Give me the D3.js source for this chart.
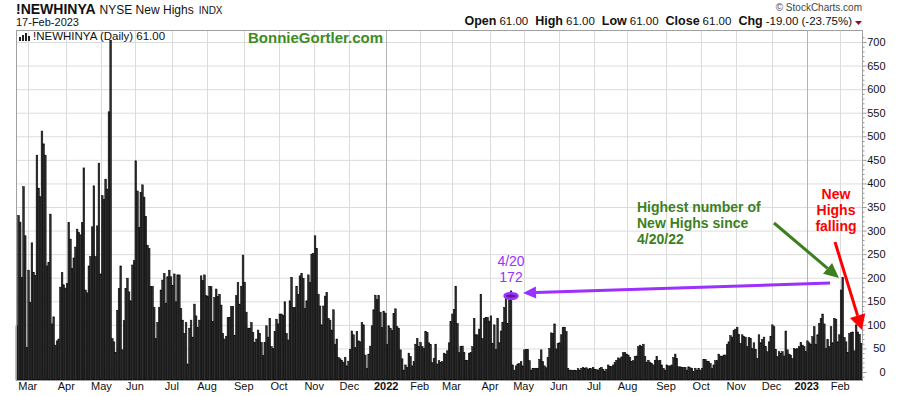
<!DOCTYPE html>
<html>
<head>
<meta charset="utf-8">
<script src="https://cdn.jsdelivr.net/npm/d3@7"></script>
<style>
  body { margin: 0; background: #fff; }
  svg { display: block; font-family: Arial, "Liberation Sans", sans-serif; }
</style>
</head>
<body>
<div id="chart"></div>
<script>
// NYSE new highs, daily, one value per trading day
const newHighs2021 = [
  98, 332, 318, 200, 393, 289, 52, 216, 148, 274, 211, 205, 460, 390, 372, 511, 484, 460, 225, 232,
  335, 102, 117, 57, 66, 70, 180, 211, 185, 178, 188, 317, 282, 220, 242, 265, 303, 296, 291, 317,
  433, 174, 168, 225, 245, 308, 395, 245, 310, 443, 208, 374, 366, 409, 388, 552, 704, 71, 64, 41,
  131, 177, 225, 47, 109, 177, 199, 170, 151, 227, 236, 448, 384, 307, 381, 397, 371, 330, 269, 262,
  181, 182, 137, 71, 105, 137, 174, 195, 209, 146, 202, 216, 202, 183, 208, 149, 206, 206, 135, 110,
  82, 105, 17, 93, 110, 74, 144, 119, 95, 110, 204, 194, 206, 162, 160, 182, 181, 107, 158, 176,
  160, 165, 142, 82, 70, 76, 116, 116, 139, 139, 78, 162, 190, 144, 182, 248, 190, 127, 93, 93,
  105, 84, 63, 70, 89, 82, 63, 35, 63, 98, 74, 114, 54, 50, 86, 112, 102, 123, 123, 120,
  149, 82, 68, 151, 201, 137, 137, 182,
  165, 204, 209, 199, 135, 151, 206, 190, 250, 252, 289, 262, 165, 140, 100, 140, 161, 169, 114, 110,
  89, 132, 59, 70, 31, 28, 25, 21, 31, 13, 23, 48, 87, 79, 52, 86, 66, 64, 105, 100,
  36, 8, 38, 55, 98, 132, 163, 154, 162, 127, 94, 129, 125
];
const newHighs2022 = [
  59, 98, 93, 88, 124, 134, 96, 93, 47, 28, 4, 15, 10, 40, 33, 13, 22, 59, 71, 54,
  63, 54, 50, 86, 84, 62, 58, 20, 29, 59, 17, 24, 20, 22, 40, 38, 45, 62,
  107, 123, 133, 182, 103, 41, 54, 55, 42, 25, 25, 40, 41, 54, 114, 79, 79, 91, 165, 71,
  114, 116, 116, 108, 119, 61, 100, 48, 114, 62, 87, 105, 137, 155, 103, 160, 172,
  15, 4, 13, 17, 18, 22, 13, 47, 48, 48, 24, 4, 8, 8, 8, 8, 27, 47, 22, 13,
  9, 31, 50, 83, 82, 102, 49, 61, 62, 79, 95, 95, 86, 8,
  4, 4, 3, 4, 3, 7, 4, 8, 10, 8, 9, 6, 8, 7, 10, 6, 5, 4, 8, 10,
  6, 2, 6, 15, 12, 12, 15, 20, 25, 30, 28, 32, 41,
  41, 38, 36, 31, 22, 24, 33, 34, 54, 57, 54, 59, 33, 21, 25, 20, 18, 15, 25, 33,
  24, 25, 15, 8, 4, 15, 13, 13, 15, 31, 38, 29, 11, 11, 10, 10, 10, 4, 11, 9,
  8, 1, 8, 4, 8, 4, 8, 27, 27, 23, 22, 18, 8, 15, 24, 24, 38, 34, 33, 36,
  36, 59, 64, 77, 74, 88, 91, 95, 80, 61, 79, 75, 74, 54, 73, 71, 50,
  62, 48, 29, 79, 62, 69, 74, 54, 43, 64, 76, 100, 96, 48, 33, 43, 40, 43, 34, 87,
  47, 38, 36, 29, 50, 48, 50, 54, 63, 57, 54, 43
];
const newHighs2023 = [
  66, 62, 59, 75, 96, 59, 79, 103, 114, 123, 102, 50, 69, 54, 96, 62, 114, 112, 64, 79,
  174, 200, 73, 64, 41, 82, 84, 85, 45, 100, 85, 80, 61
];

const lastDay = '2023-02-17';
const marketHolidays = [
  '2021-04-02', '2021-05-31', '2021-07-05', '2021-09-06', '2021-11-25', '2021-12-24',
  '2022-01-17', '2022-02-21', '2022-04-15', '2022-05-30', '2022-06-20', '2022-07-04',
  '2022-09-05', '2022-11-24', '2022-12-26', '2023-01-02', '2023-01-16'
];
const monthNames = ['Jan', 'Feb', 'Mar', 'Apr', 'May', 'Jun', 'Jul', 'Aug', 'Sep', 'Oct', 'Nov', 'Dec'];
const yTicks = [0, 50, 100, 150, 200, 250, 300, 350, 400, 450, 500, 550, 600, 650, 700];

const values = newHighs2021.concat(newHighs2022, newHighs2023);

// walk back from the last session to get one date per value
const fmt = d3.utcFormat('%Y-%m-%d');
const dates = [];
let day = new Date(lastDay + 'T00:00:00Z');
while (dates.length < values.length) {
  const wd = day.getUTCDay();
  if (wd !== 0 && wd !== 6 && !marketHolidays.includes(fmt(day))) dates.unshift(new Date(day));
  day = d3.utcDay.offset(day, -1);
}
const bars = values.map((v, i) => ({ i, v, date: dates[i] }));

const W = 900, H = 396;
const plot = { left: 16, right: 862, top: 30, bottom: 380 };

const svg = d3.select('#chart').append('svg').attr('width', W).attr('height', H);

const x = d3.scaleBand().domain(d3.range(values.length)).range([plot.left, plot.right]).padding(0);
const y = d3.scaleLinear().domain([0, 700]).range([372, 42]);

// month starts
const monthStarts = bars.filter((b, i) => i > 0 && b.date.getUTCMonth() !== bars[i - 1].date.getUTCMonth());

// grid
const grid = svg.append('g');
grid.selectAll('.hg').data(yTicks).enter().append('line')
  .attr('x1', plot.left).attr('x2', plot.right)
  .attr('y1', d => y(d) + 0.5).attr('y2', d => y(d) + 0.5)
  .attr('stroke', '#dcdcdc');
grid.selectAll('.vg').data(monthStarts).enter().append('line')
  .attr('x1', d => Math.round(x(d.i)) + 0.5).attr('x2', d => Math.round(x(d.i)) + 0.5)
  .attr('y1', plot.top).attr('y2', plot.bottom)
  .attr('stroke', d => d.date.getUTCMonth() === 0 ? '#b4b4b4' : '#dcdcdc');

// bars
svg.append('g').selectAll('rect').data(bars).enter().append('rect')
  .attr('x', d => x(d.i))
  .attr('width', x.bandwidth())
  .attr('y', d => y(d.v))
  .attr('height', d => plot.bottom - y(d.v))
  .attr('fill', '#2e2e2e')
  .attr('stroke', '#000')
  .attr('stroke-width', 0.5);

// frame
svg.append('rect')
  .attr('x', plot.left + 0.5).attr('y', plot.top + 0.5)
  .attr('width', plot.right - plot.left).attr('height', plot.bottom - plot.top)
  .attr('fill', 'none').attr('stroke', '#a0a0a0');

// right axis
const yAxis = svg.append('g').attr('transform', `translate(${plot.right + 0.5},0)`);
yAxis.selectAll('.minor').data(d3.range(-10, 720, 10)).enter().append('line')
  .attr('x1', 0).attr('x2', d => d % 50 === 0 ? 4 : 2)
  .attr('y1', d => y(d) + 0.5).attr('y2', d => y(d) + 0.5)
  .attr('stroke', '#999');
yAxis.selectAll('text').data(yTicks).enter().append('text')
  .attr('x', 23).attr('y', d => y(d) + 4)
  .attr('text-anchor', 'end')
  .attr('font-size', 11).attr('fill', '#111')
  .text(d => d);

// month labels
svg.append('g').selectAll('text').data(monthStarts).enter().append('text')
  .attr('x', d => x(d.i))
  .attr('y', 390)
  .attr('text-anchor', 'middle')
  .attr('font-size', 11)
  .attr('font-weight', d => d.date.getUTCMonth() === 0 ? 'bold' : 'normal')
  .attr('fill', '#111')
  .text(d => d.date.getUTCMonth() === 0 ? d.date.getUTCFullYear() : monthNames[d.date.getUTCMonth()]);

// header
const head = svg.append('text').attr('x', 16).attr('y', 14).attr('fill', '#111');
head.append('tspan').attr('font-size', 14).attr('font-weight', 'bold').text('!NEWHINYA');
head.append('tspan').attr('font-size', 12).attr('dx', 4).text('NYSE New Highs');
head.append('tspan').attr('font-size', 10).attr('dx', 5).text('INDX');
svg.append('text').attr('x', 16).attr('y', 26).attr('font-size', 11).attr('fill', '#111').text('17-Feb-2023');

svg.append('text').attr('x', 862).attr('y', 11).attr('text-anchor', 'end')
  .attr('font-size', 10).attr('fill', '#444').text('\u00A9 StockCharts.com');
const ohlc = svg.append('text').attr('x', 852).attr('y', 25).attr('text-anchor', 'end')
  .attr('font-size', 11.5).attr('fill', '#111');
[['Open', '61.00'], ['High', '61.00'], ['Low', '61.00'], ['Close', '61.00'], ['Chg', '-19.00 (-23.75%)']]
  .forEach((p, k) => {
    ohlc.append('tspan').attr('font-weight', 'bold').attr('font-size', 12.5).attr('dx', k ? 7 : 0).text(p[0]);
    ohlc.append('tspan').attr('dx', 3).text(p[1]);
  });
svg.append('path').attr('d', 'M855,21 L862,21 L858.5,25 Z').attr('fill', '#8b1030');

// legend inside plot
const icon = svg.append('g').attr('fill', '#222');
[[19, 4], [22, 6], [25, 8], [28, 5]].forEach(b => {
  icon.append('rect').attr('x', b[0]).attr('y', 41 - b[1]).attr('width', 2).attr('height', b[1]);
});
svg.append('text').attr('x', 33).attr('y', 40).attr('font-size', 11.5).attr('fill', '#111')
  .text('!NEWHINYA (Daily) 61.00');

svg.append('text').attr('x', 248).attr('y', 43).attr('font-size', 15).attr('font-weight', 'bold')
  .attr('fill', '#3c8c22').text('BonnieGortler.com');

// annotations
function arrow(x1, y1, x2, y2, color, w, headLen, headHalf) {
  const a = Math.atan2(y2 - y1, x2 - x1);
  const bx = x2 - headLen * Math.cos(a), by = y2 - headLen * Math.sin(a);
  svg.append('line').attr('x1', x1).attr('y1', y1).attr('x2', bx).attr('y2', by)
    .attr('stroke', color).attr('stroke-width', w);
  const px = -Math.sin(a) * headHalf, py = Math.cos(a) * headHalf;
  svg.append('path')
    .attr('d', `M${x2},${y2} L${bx + px},${by + py} L${bx - px},${by - py} Z`)
    .attr('fill', color);
}

const purple = '#9b30ff';
const peak2022 = bars[bars.findIndex(b => fmt(b.date) === '2022-04-20')];
svg.append('ellipse')
  .attr('cx', x(peak2022.i) + x.bandwidth() / 2).attr('cy', 296)
  .attr('rx', 6.5).attr('ry', 2.8)
  .attr('fill', '#5a1a99').attr('stroke', purple).attr('stroke-width', 2.5);
svg.append('text').attr('x', 511).attr('y', 266).attr('text-anchor', 'middle')
  .attr('font-size', 14).attr('fill', purple).text('4/20');
svg.append('text').attr('x', 511).attr('y', 282).attr('text-anchor', 'middle')
  .attr('font-size', 14).attr('fill', purple).text('172');
arrow(830, 283, 523, 293, purple, 3, 13, 6);

const green = '#3d7f1e';
['Highest number of', 'New Highs since', '4/20/22'].forEach((t, k) => {
  svg.append('text').attr('x', 637).attr('y', 212 + k * 16).attr('font-size', 14)
    .attr('font-weight', 'bold').attr('fill', green).text(t);
});
arrow(774, 223, 839, 278, green, 3, 15, 7);

const red = '#ff0000';
['New', 'Highs', 'falling'].forEach((t, k) => {
  svg.append('text').attr('x', 836).attr('y', 199 + k * 16).attr('text-anchor', 'middle')
    .attr('font-size', 14).attr('font-weight', 'bold').attr('fill', red).text(t);
});
arrow(835, 242, 862, 330, red, 3, 15, 8);
</script>
</body>
</html>
